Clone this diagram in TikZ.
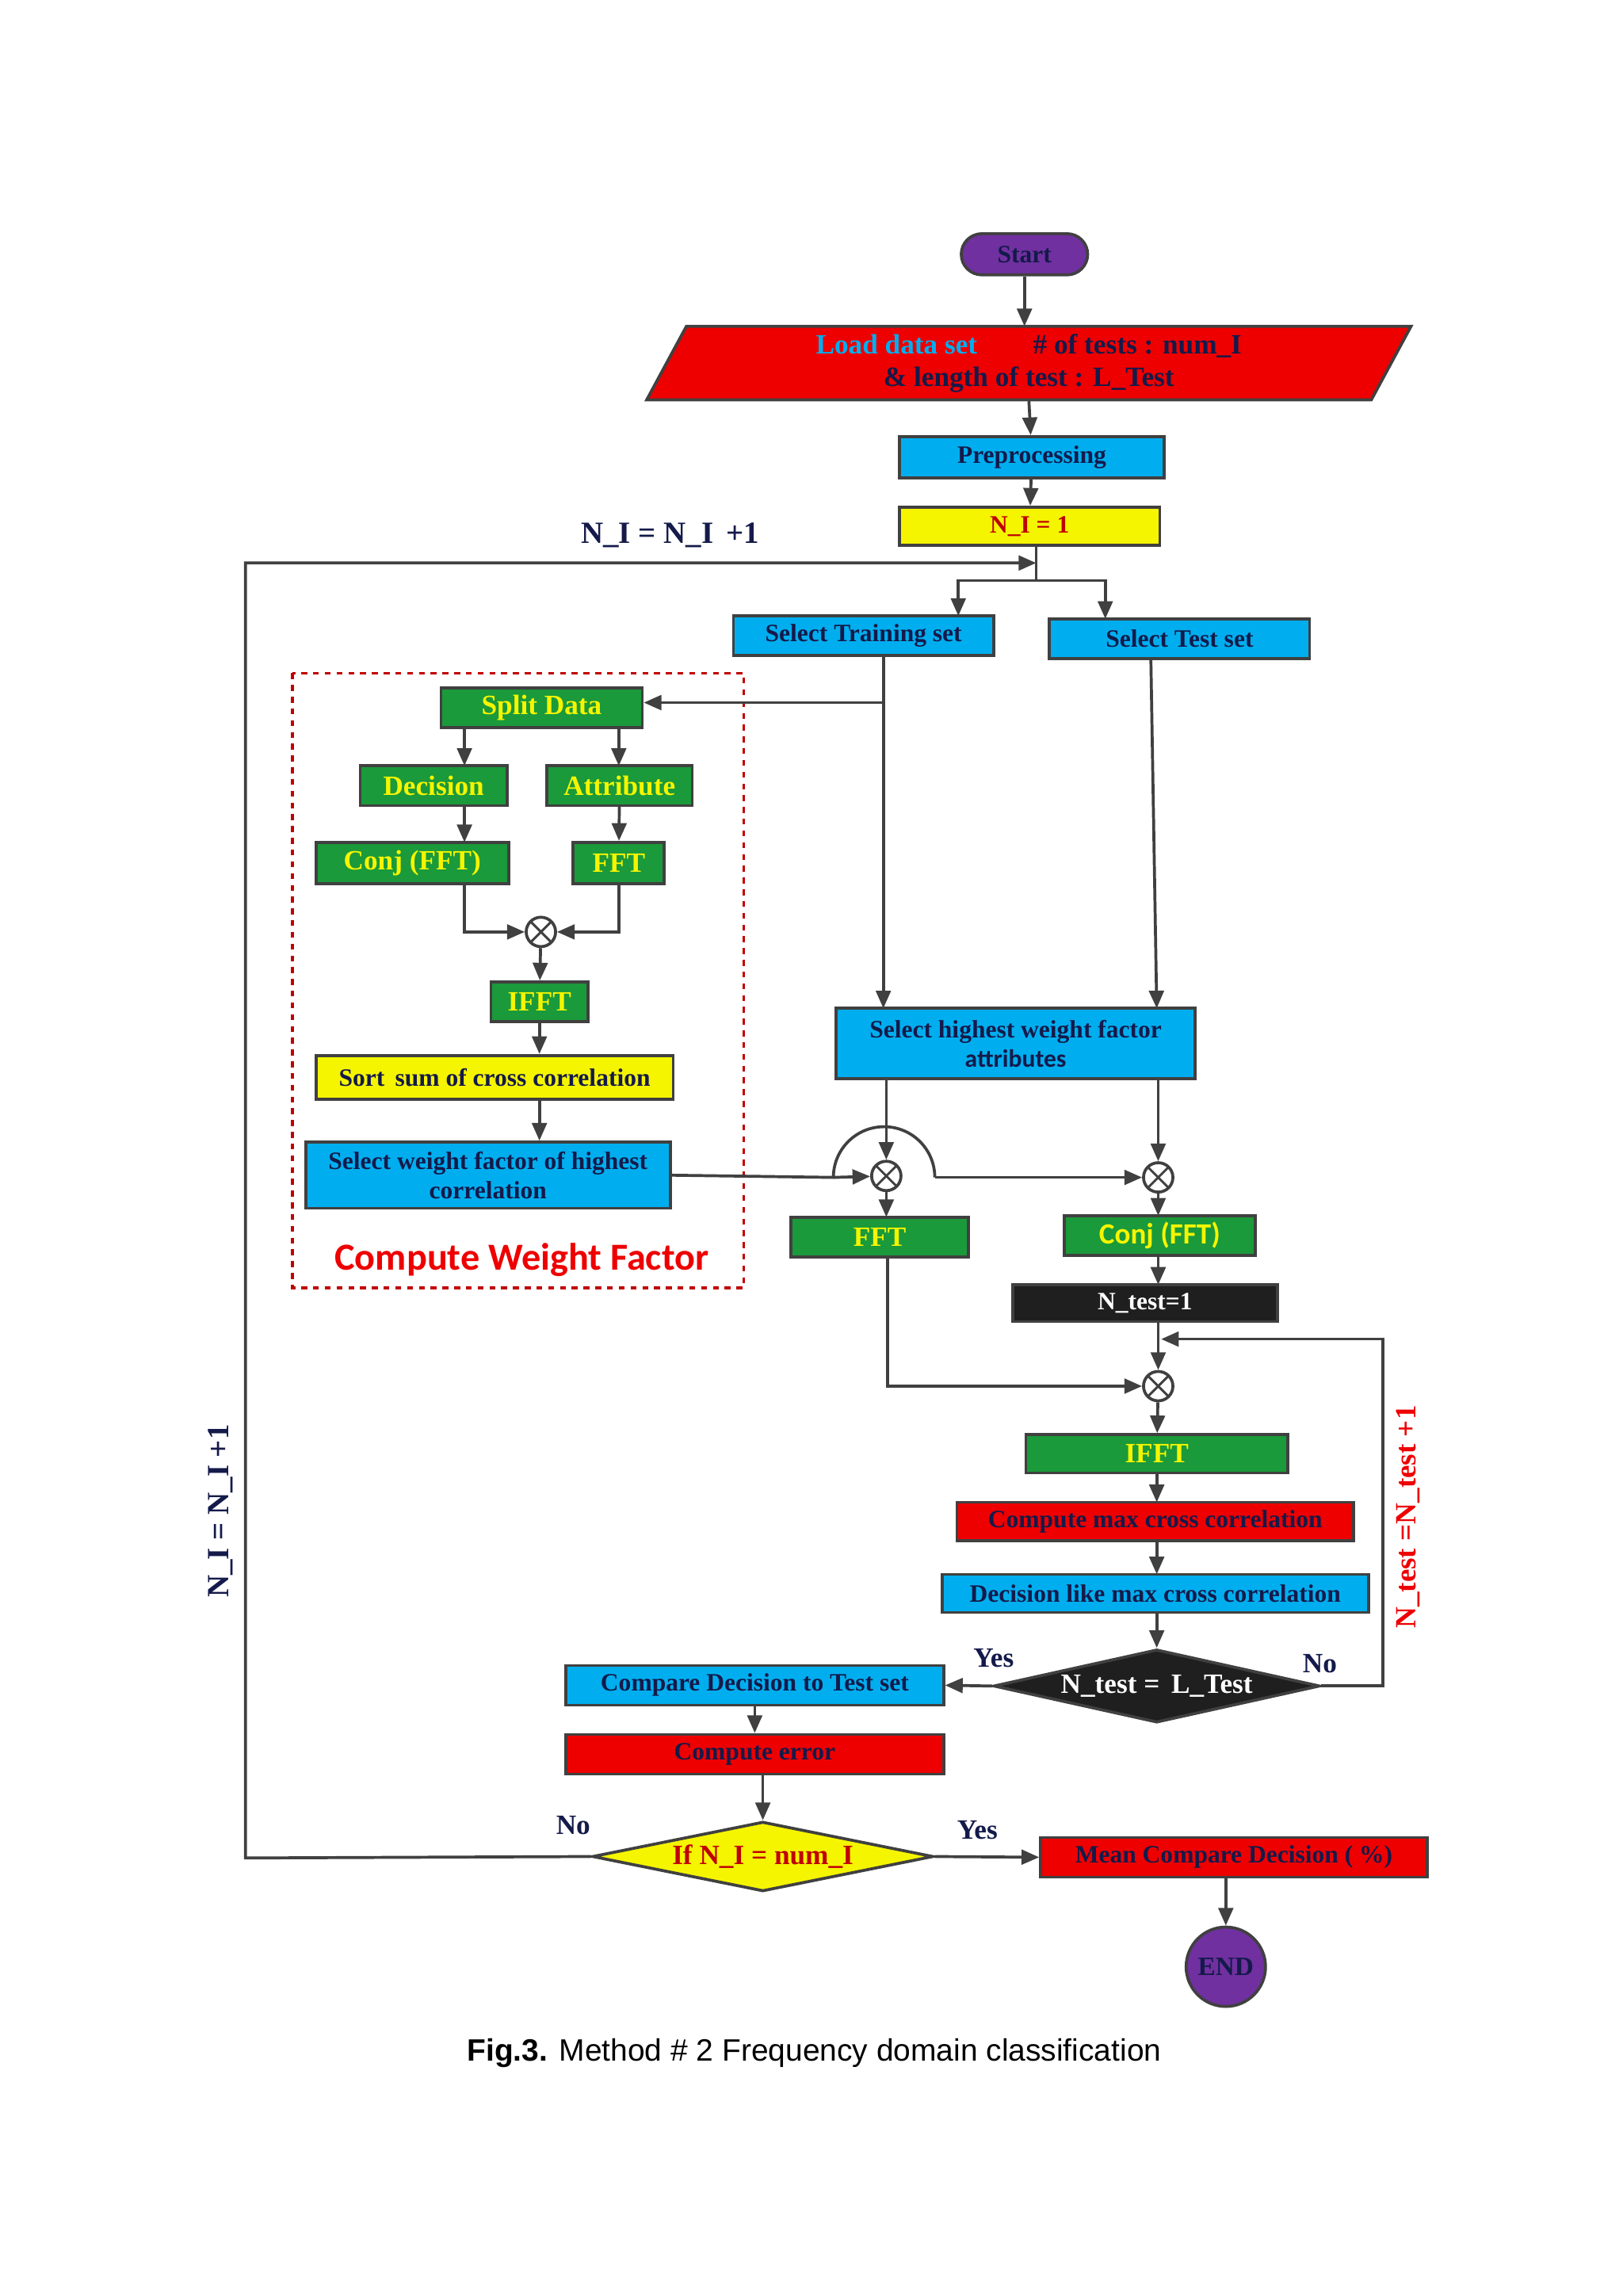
\documentclass[tikz,border=0pt]{standalone}
\usepackage{fontspec}
\setmainfont{Liberation Serif}
\newfontfamily\arialf{Liberation Sans}
\newfontfamily\carl{Carlito}
\usetikzlibrary{arrows.meta,shapes.geometric}
\definecolor{cblue}{HTML}{00AEEF}
\definecolor{cgreen}{HTML}{1A9A3A}
\definecolor{cyel}{HTML}{F5F500}
\definecolor{cred}{HTML}{EE0000}
\definecolor{cpur}{HTML}{7030A0}
\definecolor{navy}{HTML}{141A4A}
\definecolor{ln}{HTML}{404040}
\definecolor{dred}{HTML}{C00000}
\begin{document}
\begin{tikzpicture}[x=0.5pt,y=-0.5pt,
 box/.style={draw=ln,line width=1pt,inner sep=0pt,font=\bfseries\fontsize{8.5}{10}\selectfont,align=center},
 bb/.style={box,fill=cblue,text=navy},
 gb/.style={box,fill=cgreen,text=cyel,font=\bfseries\fontsize{9.5}{11}\selectfont},
 yb/.style={box,fill=cyel},
 rb/.style={box,fill=cred,text=navy},
 ar/.style={draw=ln,line width=1pt,-{Triangle[length=6pt,width=5pt]}},
 ln/.style={draw=ln,line width=1pt},
 mul/.style={circle,draw=ln,line width=1pt,fill=white,minimum size=10pt,inner sep=0pt,
   path picture={\draw[ln,line width=0.8pt] (path picture bounding box.north west)--(path picture bounding box.south east) (path picture bounding box.north east)--(path picture bounding box.south west);}},
 lab/.style={font=\bfseries\fontsize{9.5}{11}\selectfont,text=navy}]
\useasboundingbox (0,0) rectangle (1104,1562);
\fill[white] (0,0) rectangle (1104,1562);
% start
\node[box,fill=cpur,rounded corners=7pt,minimum width=43pt,minimum height=14pt,text=navy] (start) at (697,173) {Start};
% load
\fill[cred,draw=ln,line width=1pt] (467,222)--(960,222)--(933,272)--(440,272)--cycle;
\node[inner sep=0pt,font=\bfseries\fontsize{9.5}{11}\selectfont,align=center,text=navy,minimum width=246pt,minimum height=25pt] (load) at (700,247)
 {\textcolor{cblue}{Load data set}\qquad \# of tests : num\_I\\ \& length of test : L\_Test};
\node[bb,minimum width=90pt,minimum height=14pt] (pre) at (702,311) {Preprocessing};
\node[yb,minimum width=88.5pt,minimum height=13pt,text=dred] (ni) at (700.5,358) {N\_I = 1};
\coordinate (j1) at (705,383);
\coordinate (j2) at (705,395);
\node[bb,minimum width=88.5pt,minimum height=13.5pt] (tr) at (587.5,432.5) {Select Training set};
\node[bb,minimum width=88.5pt,minimum height=13.5pt] (te) at (802.5,434.5) {Select Test set};
\draw[ar] (start) -- (697,222);
\draw[ar] (700,272) -- (pre);
\draw[ar] (pre) -- (ni);
\draw[ln] (ni.south -| j1) -- (j2);
\draw[ar] (j2) -| (652,419);
\draw[ar] (j2) -| (752,421);
% dashed box
\draw[dred,line width=1pt,dash pattern=on 2pt off 2pt] (199,458) rectangle (506,876);
\node[font=\carl\bfseries\fontsize{13}{15}\selectfont,text=cred] at (355,857) {Compute Weight Factor};
\node[gb,minimum width=68.5pt,minimum height=13.5pt] (sd) at (368.5,481.5) {Split Data};
\node[gb,minimum width=50pt,minimum height=13.5pt] (dec) at (295,534.5) {Decision};
\node[gb,minimum width=49.5pt,minimum height=13.5pt] (att) at (421.5,534.5) {Attribute};
\node[gb,minimum width=65.5pt,minimum height=14pt] (cj1) at (280.5,587) {Conj (FFT)};
\node[gb,minimum width=31pt,minimum height=14pt] (fft1) at (421,587) {FFT};
\node[mul] (m1) at (368,634) {};
\node[gb,minimum width=33pt,minimum height=13.5pt] (if1) at (367,681.5) {IFFT};
\node[yb,minimum width=121.5pt,minimum height=15pt,text=navy] (sort) at (336.5,733) {Sort\, sum of cross correlation};
\node[bb,minimum width=124pt,minimum height=22.5pt] (sw) at (332,799.5) {Select weight factor of highest\\correlation};
\draw[ar] (tr.south -| 601,0) |- (601,478) -- (sd.east |- 601,478);
\draw[ar] (316,495) -- (316,521);
\draw[ar] (421,495) -- (421,521);
\draw[ar] (316,548) -- (316,573);
\draw[ar] (att) -- (fft1);
\draw[ar] (316,601) |- (m1);
\draw[ar] (fft1) |- (m1);
\draw[ar] (m1) -- (if1);
\draw[ar] (if1) -- (sort.north -| if1);
\draw[ar] (sort.south -| if1) -- (sw.north -| if1);
% right part
\node[bb,minimum width=122pt,minimum height=24pt] (sh) at (691,710) {Select highest weight factor\\\carl\bfseries attributes};
\draw[ar] (601,446) -- (601,686);
\draw[ar] (783,448) -- (787,686);
\node[mul] (m2) at (603,800) {};
\node[mul] (m3) at (788,801) {};
\draw[ar] (603,734) -- (m2);
\draw[ar] (788,734) -- (m3);
\draw[ln] (sw.east) -- (567,801) arc(180:360:34.5) -- (636,801);
\draw[ar] (567,801) -- (m2);
\draw[ar] (636,801) -- (m3);
\node[gb,minimum width=60.5pt,minimum height=13.5pt] (fft2) at (598.5,841.5) {FFT};
\node[gb,minimum width=65pt,minimum height=13.5pt,font=\carl\bfseries\fontsize{10}{11}\selectfont] (cj2) at (789,840.5) {Conj (FFT)};
\draw[ar] (m2) -- (603,828);
\draw[ar] (m3) -- (788,827);
\node[box,fill=black!88,text=white,minimum width=90pt,minimum height=12.5pt] (nt) at (779,886.5) {N\_test=1};
\draw[ar] (788,854) -- (788,874);
\node[mul] (m4) at (788,943) {};
\draw[ar] (788,899) -- (m4);
\draw[ar] (604,855) |- (m4);
\node[gb,minimum width=89pt,minimum height=13pt] (if2) at (787,989) {IFFT};
\draw[ar] (m4) -- (if2);
\node[rb,minimum width=135pt,minimum height=13pt] (cm) at (786,1035) {Compute max cross correlation};
\draw[ar] (if2.south -| 787,0) -- (787,1022);
\node[bb,minimum width=145pt,minimum height=13pt] (dl) at (786,1084) {Decision like max cross correlation};
\draw[ar] (787,1048) -- (787,1071);
\node[diamond,draw=ln,line width=1pt,fill=black!88,text=white,aspect=3.76,minimum width=111pt,inner sep=0pt,font=\bfseries\fontsize{9.5}{11}\selectfont] (d1) at (787,1147) {N\_test =\, L\_Test};
\draw[ar] (787,1097) -- (d1.north);
\draw[ar] (d1.east) -- (941,1147) -- (941,911) -- (790,911);
\node[lab] at (676,1128) {Yes};
\node[lab] at (898,1132) {No};
\node[rotate=90,font=\bfseries\fontsize{10}{12}\selectfont,text=cred] at (958,1032) {N\_test =N\_test +1};
\node[bb,minimum width=128.5pt,minimum height=13.5pt] (cd) at (513.5,1146.5) {Compare Decision to Test set};
\draw[ar] (d1.west) -- (cd.east);
\node[rb,minimum width=128.5pt,minimum height=13.5pt] (ce) at (513.5,1193.5) {Compute error};
\draw[ar] (cd) -- (ce);
\node[diamond,draw=ln,line width=1pt,fill=cyel,text=dred,aspect=3.93,minimum width=116pt,inner sep=0pt,font=\bfseries\fontsize{9.5}{11}\selectfont] (d2) at (519,1263) {If N\_I = num\_I};
\draw[ar] (ce.south -| d2) -- (d2.north);
\node[lab] at (390,1242) {No};
\node[lab] at (665,1245) {Yes};
\draw[ar] (d2.west) -- (167,1264) -- (167,383) -- (j1);
\node[rotate=90,lab,font=\bfseries\fontsize{10.5}{12}\selectfont] at (150,1028) {N\_I = N\_I +1};
\node[lab,font=\bfseries\fontsize{10.5}{12}\selectfont] at (456,364) {N\_I = N\_I\, +1};
\node[rb,minimum width=131.5pt,minimum height=13.5pt] (mc) at (839.5,1263.5) {Mean Compare Decision ( \%)};
\draw[ar] (d2.east) -- (mc.west);
\node[circle,draw=ln,line width=1pt,fill=cpur,minimum size=27pt,inner sep=0pt,font=\bfseries\fontsize{9}{10}\selectfont,text=navy] (end) at (834,1338) {END};
\draw[ar] (834,1277) -- (end);
\node[font=\arialf\fontsize{10.5}{12}\selectfont] at (554,1397) {\textbf{Fig.3.} Method \# 2 Frequency domain classification};
\end{tikzpicture}
\end{document}
